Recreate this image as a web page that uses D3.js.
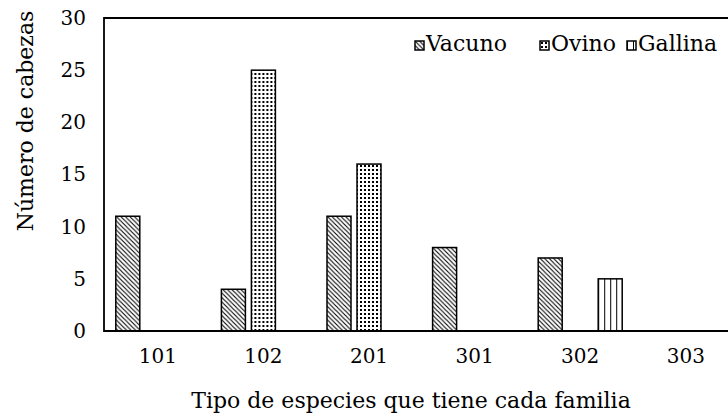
<!DOCTYPE html>
<html>
<head>
<meta charset="utf-8">
<script src="https://cdn.jsdelivr.net/npm/d3@7"></script>
<style>
  body { margin: 0; background: #fff; }
  text { font-family: "DejaVu Serif", "Liberation Serif", serif; fill: #000; }
</style>
</head>
<body>
<svg id="chart"></svg>
<script>
// data
let categories = ['101', '102', '201', '301', '302', '303'];
let seriesNames = ['Vacuno', 'Ovino', 'Gallina'];
let vacuno = [11, 4, 11, 8, 7, 0];
let ovino = [0, 25, 16, 0, 0, 0];
let gallina = [0, 0, 0, 0, 5, 0];
let yTicks = [0, 5, 10, 15, 20, 25, 30];

let w = 728;
let h = 416;
let titleSize = 22;
let tickSize = 20;

let svg = d3.select('#chart')
  .attr('width', w)
  .attr('height', h);

////////////////////////////////////////////////PATTERNS/////////////////
let defs = svg.append('defs');

let diag = defs.append('pattern')
  .attr('id', 'pat-vacuno')
  .attr('patternUnits', 'userSpaceOnUse')
  .attr('width', 4.5)
  .attr('height', 4.5);
diag.append('rect').attr('width', 4.5).attr('height', 4.5).attr('fill', '#fff');
diag.append('path')
  .attr('d', 'M-1,-1L5.5,5.5M-1,3.5L1,5.5M3.5,-1L5.5,1')
  .attr('stroke', '#000')
  .attr('stroke-width', 1.1);

let dots = defs.append('pattern')
  .attr('id', 'pat-ovino')
  .attr('patternUnits', 'userSpaceOnUse')
  .attr('width', 4)
  .attr('height', 4);
dots.append('rect').attr('width', 4).attr('height', 4).attr('fill', '#fff');
dots.append('rect').attr('x', 1).attr('y', 1).attr('width', 2).attr('height', 2).attr('fill', '#000');

let stripes = defs.append('pattern')
  .attr('id', 'pat-gallina')
  .attr('patternUnits', 'userSpaceOnUse')
  .attr('width', 6)
  .attr('height', 6)
  .attr('x', 1);
stripes.append('rect').attr('width', 6).attr('height', 6).attr('fill', '#fff');
stripes.append('rect').attr('x', 5).attr('width', 1.8).attr('height', 6).attr('fill', '#000');

let fills = ['url(#pat-vacuno)', 'url(#pat-ovino)', 'url(#pat-gallina)'];

////////////////////////////////////////////////SCALES/////////////////
let xScale = d3.scaleBand()
  .domain(categories)
  .range([105, 105 + 6 * 105.6]);

let xInner = d3.scaleBand()
  .domain(seriesNames)
  .range([0, 84])
  .paddingInner(0.2);

let yScale = d3.scaleLinear()
  .domain([0, 30])
  .range([331, 18]);

let rows = categories.map((c, i) => ({
  cat: c,
  values: [vacuno[i], ovino[i], gallina[i]]
}));

////////////////////////////////////////////////BARS/////////////////
let groups = svg.selectAll('g.group')
  .data(rows)
  .enter()
  .append('g')
  .attr('class', 'group')
  .attr('transform', (d) => `translate(${xScale(d.cat) + (xScale.bandwidth() - 84) / 2}, 0)`);

groups.selectAll('rect')
  .data((d) => d.values.map((v, i) => ({ name: seriesNames[i], value: v, i: i })))
  .enter()
  .filter((d) => d.value > 0)
  .append('rect')
  .attr('x', (d) => xInner(d.name))
  .attr('y', (d) => yScale(d.value))
  .attr('width', xInner.bandwidth())
  .attr('height', (d) => yScale(0) - yScale(d.value))
  .attr('fill', (d) => fills[d.i])
  .attr('stroke', '#000')
  .attr('stroke-width', 1.5);

////////////////////////////////////////////////AXES/////////////////
// frame: left, top and bottom lines, right side runs off the page
svg.append('path')
  .attr('d', `M${w},${yScale(30)}H${xScale.range()[0] - 1}V${yScale(0)}H${w}`)
  .attr('fill', 'none')
  .attr('stroke', '#000')
  .attr('stroke-width', 1.8);

let yAxis = d3.axisLeft(yScale)
  .tickValues(yTicks)
  .tickSize(0)
  .tickPadding(0);
svg.append('g')
  .attr('transform', 'translate(86, 0)')
  .call(yAxis)
  .call((g) => g.select('.domain').remove())
  .selectAll('text')
  .style('font-family', '"DejaVu Serif", serif')
  .style('font-size', tickSize + 'px')
  .attr('fill', '#000');

let xAxis = d3.axisBottom(xScale)
  .tickSize(0)
  .tickPadding(0);
svg.append('g')
  .attr('transform', 'translate(0, 349)')
  .call(xAxis)
  .call((g) => g.select('.domain').remove())
  .selectAll('text')
  .style('font-family', '"DejaVu Serif", serif')
  .style('font-size', tickSize + 'px')
  .attr('fill', '#000');

// axis titles
svg.append('text')
  .attr('x', 411)
  .attr('y', 408)
  .style('text-anchor', 'middle')
  .style('font-size', titleSize + 'px')
  .text('Tipo de especies que tiene cada familia');

svg.append('text')
  .attr('transform', 'translate(33, 121) rotate(-90)')
  .style('text-anchor', 'middle')
  .style('font-size', titleSize + 'px')
  .text('Número de cabezas');

////////////////////////////////////////////////LEGEND/////////////////
let legendX = [415, 540, 627];

let legend = svg.selectAll('g.legend')
  .data(seriesNames)
  .enter()
  .append('g')
  .attr('class', 'legend')
  .attr('transform', (d, i) => `translate(${legendX[i]}, 41)`);

legend.append('rect')
  .attr('width', 9)
  .attr('height', 9)
  .attr('fill', (d, i) => fills[i])
  .attr('stroke', '#000')
  .attr('stroke-width', 1.5);

legend.append('text')
  .attr('x', 11)
  .attr('y', 10)
  .style('font-size', titleSize + 'px')
  .text((d) => d);
</script>
</body>
</html>
